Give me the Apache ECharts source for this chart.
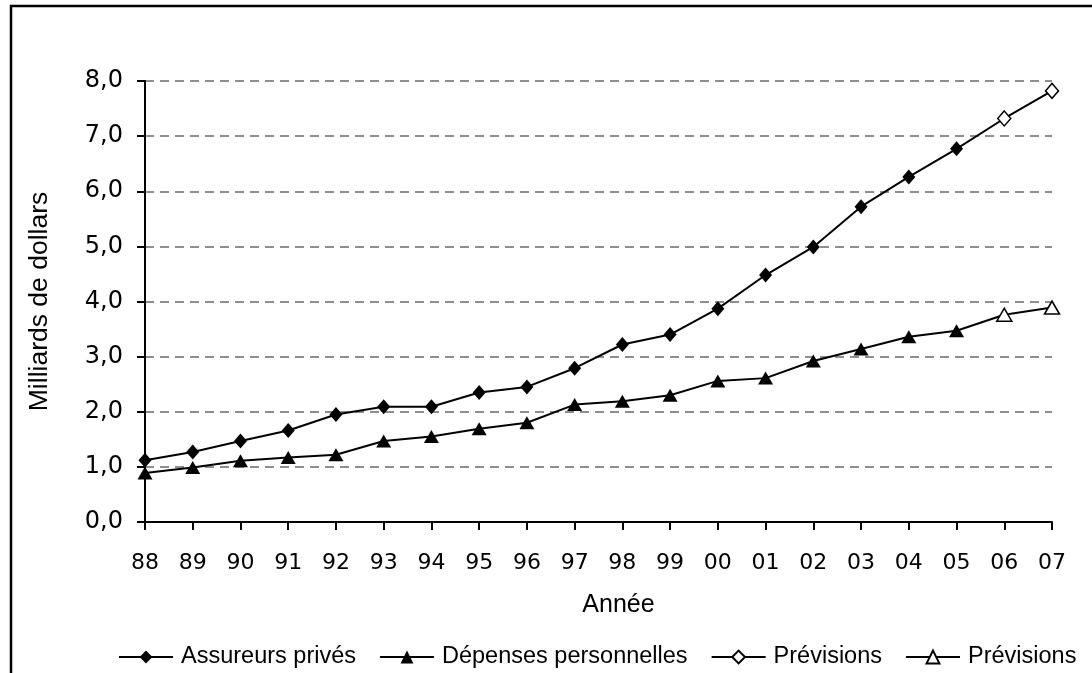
<!DOCTYPE html>
<html>
<head>
<meta charset="utf-8">
<script src="https://cdn.jsdelivr.net/npm/echarts@6/dist/echarts.min.js"></script>
<style>
html,body{margin:0;padding:0;background:#fff;}
#chart{width:1092px;height:673px;}
</style>
</head>
<body>
<div id="chart"></div>
<script>
const years = ['88','89','90','91','92','93','94','95','96','97','98','99','00','01','02','03','04','05','06','07'];
const assureurs = [1.12,1.27,1.47,1.66,1.95,2.09,2.09,2.35,2.45,2.79,3.22,3.40,3.87,4.48,4.99,5.72,6.26,6.77];
const assureursPrev = [7.32,7.82];
const depenses = [0.89,0.99,1.11,1.17,1.22,1.47,1.55,1.69,1.80,2.13,2.19,2.30,2.56,2.61,2.92,3.14,3.36,3.47];
const depensesPrev = [3.76,3.89];

function actual(arr){ return years.map((y,i)=> i < arr.length ? arr[i] : null); }
function forecast(arr, prev){
  const n = arr.length;
  return years.map((y,i)=>{
    if (i === n-1) return {value: arr[i], symbol:'none'};
    if (i >= n) return prev[i-n];
    return null;
  });
}

const chart = echarts.init(document.getElementById('chart'), null, {renderer:'canvas'});
const lineStyle = {color:'#000', width:2};
chart.setOption({
  animation:false,
  backgroundColor:'#fff',
  graphic:[{type:'rect', shape:{x:11,y:6,width:2000,height:2000}, style:{fill:'none', stroke:'#000', lineWidth:2.5}, silent:true, z:-1}],
  grid:{left:145,right:40,top:81,bottom:151},
  legend:{
    left:118, top:645, padding:0, width:974, itemWidth:54, itemHeight:16, itemGap:23,
    textStyle:{fontFamily:'Liberation Sans', fontSize:23.5, color:'#000', padding:[0,0,0,3]},
    data:['Assureurs privés','Dépenses personnelles','Prévisions','Prévisions ']
  },
  xAxis:{
    type:'category', data:years, boundaryGap:false,
    name:'Année', nameLocation:'middle', nameGap:71,
    nameTextStyle:{fontFamily:'Liberation Sans', fontSize:25, color:'#000', padding:[0,0,0,40]},
    axisLine:{lineStyle:{color:'#000', width:2}},
    axisTick:{show:true, length:8, interval:0, lineStyle:{color:'#000', width:2}},
    axisLabel:{interval:0, margin:30, fontFamily:'DejaVu Sans', fontSize:22, color:'#000'},
    splitLine:{show:false}
  },
  yAxis:{
    type:'value', min:0, max:8, interval:1,
    name:'Milliards de dollars', nameLocation:'middle', nameGap:92,
    nameTextStyle:{fontFamily:'Liberation Sans', fontSize:26.5, color:'#000'},
    axisLine:{show:true, lineStyle:{color:'#000', width:2}},
    axisTick:{show:true, length:8, lineStyle:{color:'#000', width:2}},
    axisLabel:{margin:22, fontFamily:'DejaVu Sans', fontSize:24, color:'#000',
      formatter:v=>v.toFixed(1).replace('.',',')},
    splitLine:{show:true, lineStyle:{color:'#6a6a6a', width:1.5, type:[9,6]}}
  },
  series:[
    {name:'Assureurs privés', type:'line', data:actual(assureurs), symbol:'diamond', symbolSize:[13,15],
      lineStyle:lineStyle, itemStyle:{color:'#000'}, z:3},
    {name:'Dépenses personnelles', type:'line', data:actual(depenses), symbol:'triangle', symbolSize:[15,13],
      lineStyle:lineStyle, itemStyle:{color:'#000'}, z:3},
    {name:'Prévisions', type:'line', data:forecast(assureurs, assureursPrev), symbol:'diamond', symbolSize:[13,15],
      lineStyle:lineStyle, itemStyle:{color:'#fff', borderColor:'#000', borderWidth:1.5}, z:2},
    {name:'Prévisions ', type:'line', data:forecast(depenses, depensesPrev), symbol:'triangle', symbolSize:[15,13],
      lineStyle:lineStyle, itemStyle:{color:'#fff', borderColor:'#000', borderWidth:1.5}, z:2}
  ]
});
</script>
</body>
</html>
